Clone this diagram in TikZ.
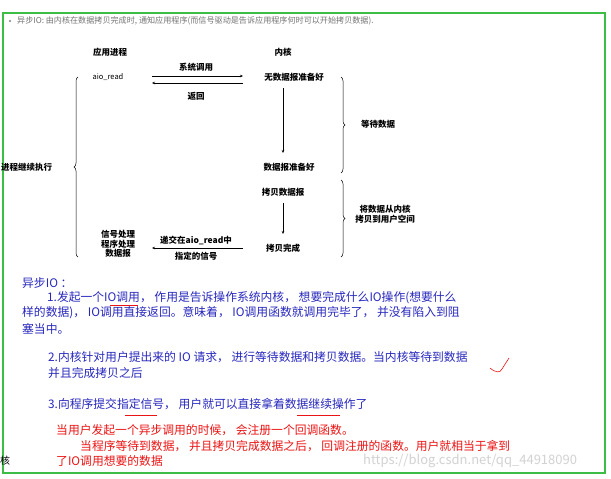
\documentclass[tikz,border=0pt]{standalone}
\usepackage{fontspec}
\setmainfont{Noto Sans CJK SC}
\usetikzlibrary{decorations.pathreplacing,arrows.meta}
\definecolor{bl}{RGB}{40,40,190}
\definecolor{rd}{RGB}{235,20,20}
\definecolor{gr}{RGB}{60,190,70}
\tikzset{
 lbl/.style={font=\fontsize{8.5}{10}\selectfont\bfseries,inner sep=0,align=center},
 arr/.style={-{Stealth[length=3pt,width=2.5pt]},line width=0.5pt},
 brc/.style={decorate,decoration={brace,amplitude=4pt},line width=0.5pt},
 bt/.style={font=\fontsize{11.8}{13}\selectfont,text=bl,anchor=west,inner sep=0},
 rt/.style={font=\fontsize{11.8}{13}\selectfont,text=rd,anchor=west,inner sep=0},
}
\begin{document}
\begin{tikzpicture}[x=1pt,y=-1pt]
\useasboundingbox (0,0) rectangle (611,479);
\fill[white] (0,0) rectangle (611,479);
\draw[gr,line width=1.2pt] (3,13) rectangle (605,473);
\fill[gray] (10,21) circle (1.2);
\node[anchor=west,inner sep=0,text=gray!90!black,font=\fontsize{8.1}{9}\selectfont] (top) at (17,21) {异步IO: 由内核在数据拷贝完成时, 通知应用程序(而信号驱动是告诉应用程序何时可以开始拷贝数据).};
\node[lbl] (app) at (110,52) {应用进程};
\node[lbl] (ker) at (283,52) {内核};
\node[lbl,font=\fontsize{7.5}{9}\selectfont] (aio) at (108,77) {aio\_read};
\node[lbl] (nod) at (294,77) {无数据报准备好};
\coordinate (a1) at (152,76); \coordinate (a2) at (243,76);
\coordinate (b1) at (243,83); \coordinate (b2) at (152,83);
\draw[arr] (a1) -- (a2);
\draw[arr] (b1) -- (b2);
\node[lbl] (sys) at (196,67) {系统调用};
\node[lbl] (ret) at (196,96) {返回};
\node[lbl] (rdy) at (289,167) {数据报准备好};
\draw[arr] (283,88) -- (283,153);
\node[lbl] (cpy) at (283,192) {拷贝数据报};
\draw[arr] (283,203) -- (283,234);
\node[lbl] (done) at (283,248) {拷贝完成};
\node[lbl,font=\fontsize{8.5}{9.5}\selectfont\bfseries] (sig) at (118,244) {信号处理\\程序处理\\数据报};
\draw[arr] (243,248) -- (152,248);
\node[lbl] (s1) at (196,240) {递交在aio\_read中};
\node[lbl] (s2) at (196,256) {指定的信号};
\draw[brc] (78,257) -- (78,77);
\node[lbl,anchor=west] (cont) at (1,167) {进程继续执行};
\draw[brc] (341,77) -- (341,173);
\node[lbl] (wait) at (378,124) {等待数据};
\draw[brc] (341,180) -- (341,257);
\node[lbl] (copy2) at (385,214) {将数据从内核\\拷贝到用户空间};
\node[bt] (t0) at (22,283) {异步IO ：};
\node[bt] (t1) at (47,298) {1.发起一个IO调用， 作用是告诉操作系统内核， 想要完成什么IO操作(想要什么};
\node[bt] (t2) at (22,313) {样的数据)， IO调用直接返回。意味着， IO调用函数就调用完毕了， 并没有陷入到阻};
\node[bt] (t3) at (22,329) {塞当中。};
\node[bt] (t4) at (48,357) {2.内核针对用户提出来的 IO 请求， 进行等待数据和拷贝数据。当内核等待到数据};
\node[bt] (t5) at (48,373) {并且完成拷贝之后};
\node[bt] (t6) at (48,404) {3.向程序提交指定信号， 用户就可以直接拿着数据继续操作了};
\node[rt] (r1) at (56,430) {当用户发起一个异步调用的时候， 会注册一个回调函数。};
\node[rt] (r2) at (80,446) {当程序等待到数据， 并且拷贝完成数据之后， 回调注册的函数。用户就相当于拿到};
\node[rt] (r3) at (56,461) {了IO调用想要的数据};
\node[anchor=west,inner sep=0,font=\fontsize{10}{11}\selectfont] (k) at (0,461) {核};
\node[anchor=west,inner sep=0,text=gray!35,font=\fontsize{13}{14}\selectfont] (wm) at (363,461) {https://blog.csdn.net/qq\_44918090};
\draw[rd,line width=0.7pt] (110,305) -- (138,305);
\draw[rd,line width=0.7pt] (125,415) -- (157,415);
\draw[rd,line width=0.7pt] (297,415) -- (340,415);
\draw[rd,line width=0.6pt] (490,368) .. controls (496,373) and (500,373) .. (502,369) -- (509,358);
\end{tikzpicture}
\end{document}
